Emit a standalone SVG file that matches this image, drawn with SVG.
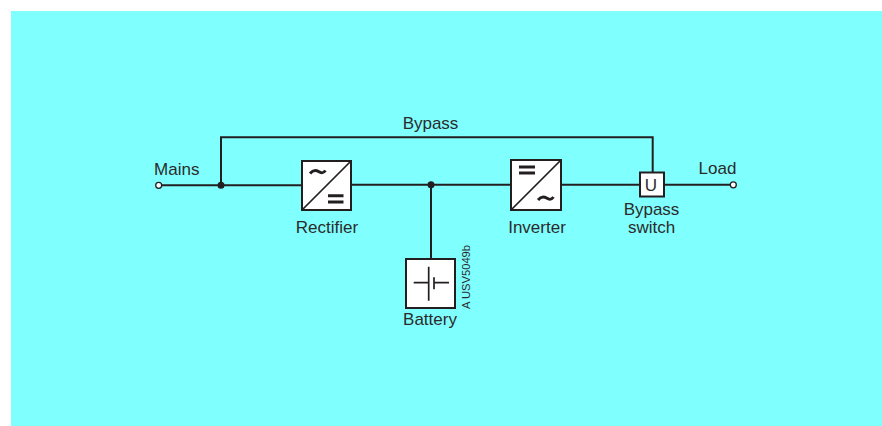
<svg xmlns="http://www.w3.org/2000/svg" width="882" height="426" viewBox="0 0 882 426">
<style>
.w{fill:none;stroke:#231f20;stroke-width:2}
.b{fill:#fff;stroke:#231f20;stroke-width:2}
.d{fill:#231f20}
.t{font-family:"Liberation Sans",Arial,sans-serif;font-size:17px;fill:#2b2b2b;text-anchor:middle}
.s{fill:none;stroke:#231f20;stroke-width:1.7}
.h{fill:none;stroke:#231f20;stroke-width:3}
</style>
<rect x="11" y="11" width="871" height="415" fill="#80ffff"/>
<g id="connectors">
<path class="w" d="M161 185.300H302"/>
<path class="w" d="M351 184.700H511"/>
<path class="w" d="M561 184.700H640"/>
<path class="w" d="M664 184.700H730"/>
<path class="w" d="M221 185V137.300H652.700V172"/>
<path class="w" d="M431 184.700V259"/>
<circle class="d" cx="221" cy="185.200" r="3.500"/>
<circle class="d" cx="431" cy="184.700" r="3.500"/>
</g>
<g id="mains"><circle cx="158.700" cy="185.300" r="3" fill="#fff" stroke="#231f20" stroke-width="1.300"/><text class="t" x="176.800" y="175">Mains</text></g>
<g id="load"><circle cx="733.300" cy="184.800" r="3" fill="#fff" stroke="#231f20" stroke-width="1.300"/><text class="t" x="717.500" y="174">Load</text></g>
<text class="t" x="430.500" y="129" id="bypass-label">Bypass</text>
<g id="rectifier">
<rect class="b" x="302" y="161" width="49" height="49"/>
<path class="s" d="M302 210L351 161"/>
<path class="h" d="M310 173.500C313 170 316 170 318.500 171.500S323 174 325.500 170.500"/>
<path class="h" d="M328 195.700H343.500M328 202H343.500"/>
<text class="t" x="327" y="233">Rectifier</text>
</g>
<g id="inverter">
<rect class="b" x="511" y="160" width="50" height="50"/>
<path class="s" d="M511 210L561 160"/>
<path class="h" d="M519 167H535M519 173H535"/>
<path class="h" d="M538 200C541 196.500 544 196.500 546.500 198S551 200.500 553.500 197"/>
<text class="t" x="537" y="233">Inverter</text>
</g>
<g id="bypass-switch">
<rect class="b" x="640" y="172.500" width="24" height="24"/>
<text class="t" x="651" y="190.500">U</text>
<text class="t" x="651.500" y="215">Bypass</text>
<text class="t" x="651.500" y="233">switch</text>
</g>
<g id="battery">
<rect class="b" x="406" y="259" width="49" height="49"/>
<path class="s" d="M413.700 282.700H428.700M428.700 266.700V300.700M434 277.300V289.300M434 282.700H449"/>
<text class="t" x="430" y="325">Battery</text>
</g>
<text x="470" y="309" transform="rotate(-90 470 309)" font-family="'Liberation Sans',Arial,sans-serif" font-size="11.200" fill="#2b2b2b">A USV5049b</text>
</svg>
